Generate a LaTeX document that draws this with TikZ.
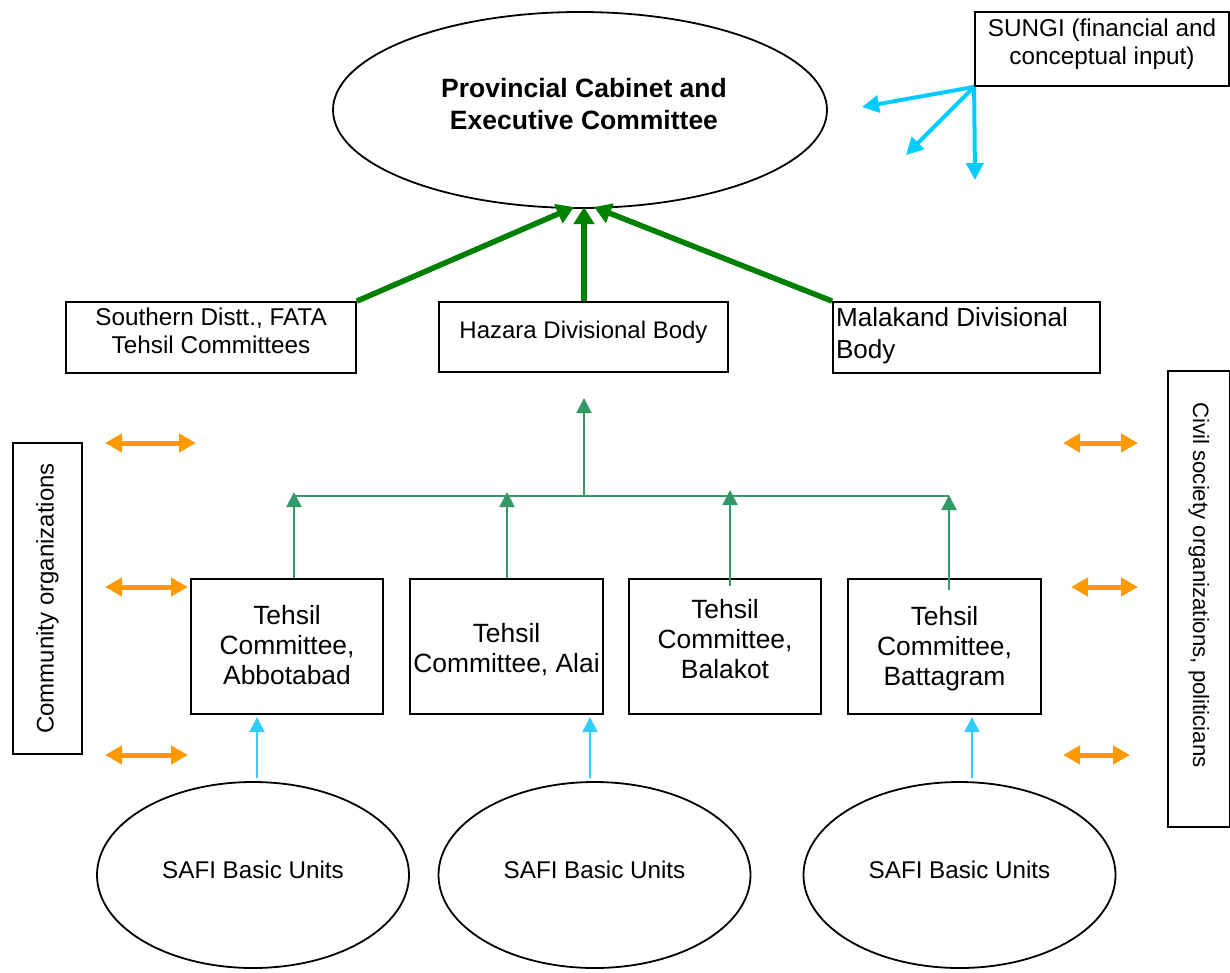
\documentclass[tikz,border=0pt]{standalone}
\usepackage{fontspec}
\setmainfont{Liberation Sans}
\usetikzlibrary{arrows.meta,shapes.geometric,calc}

\definecolor{feedgreen}{HTML}{008000}
\definecolor{linkgreen}{HTML}{339966}
\definecolor{inputblue}{HTML}{00CCFF}
\definecolor{unitblue}{HTML}{33CCFF}
\definecolor{liaison}{HTML}{FF9900}

% lines of a label, raised by #1 without changing the box size
\newcommand{\liftstack}[3]{\raisebox{#1}[\height][\depth]{\begin{tabular}{@{}#2@{}}#3\end{tabular}}}

\tikzset{
  plainbox/.style={draw, rectangle, line width=1.8pt, inner sep=0pt},
  oval/.style={draw, ellipse, line width=1.8pt, inner sep=0pt},
  feedarrow/.style={draw=feedgreen, line width=5.5pt, -{Triangle[length=17pt,width=20pt]}},
  linkline/.style={draw=linkgreen, line width=2pt},
  linkarrow/.style={draw=linkgreen, line width=2pt, -{Triangle[length=15pt,width=15pt]}},
  inputarrow/.style={draw=inputblue, line width=4pt, -{Triangle[length=17pt,width=17pt]}},
  unitarrow/.style={draw=unitblue, line width=2pt, -{Triangle[length=15pt,width=15pt]}},
  liaisonarrow/.style={draw=liaison, line width=5pt,
    {Triangle[length=17pt,width=18pt]}-{Triangle[length=17pt,width=18pt]}},
  tehsil/.style={plainbox, minimum width=192pt, minimum height=135pt,
    font=\fontsize{26.4}{30}\selectfont},
  safi/.style={oval, minimum width=312pt, minimum height=186pt,
    font=\fontsize{24.2}{28}\selectfont},
}

\begin{document}
\begin{tikzpicture}[x=1pt,y=-1pt]
\useasboundingbox (0,0) rectangle (1230,972);

% ---- top level ----
\node[oval, minimum width=494pt, minimum height=196pt,
      font=\fontsize{26.5}{32}\selectfont\bfseries] (cabinet) at (580,110)
  {\liftstack{3pt}{c}{\hspace*{8pt}Provincial Cabinet and\\\hspace*{8pt}Executive Committee}};

\node[plainbox, minimum width=254pt, minimum height=74pt,
      font=\fontsize{24.3}{28}\selectfont] (sungi) at (1102,49)
  {\liftstack{4pt}{c}{SUNGI (financial and\\conceptual input)}};

% ---- divisional level ----
\node[plainbox, minimum width=290pt, minimum height=71pt,
      font=\fontsize{24.3}{28}\selectfont] (southern) at (211,337.5)
  {\liftstack{3.5pt}{c}{Southern Distt., FATA\\Tehsil Committees}};
\node[plainbox, minimum width=289pt, minimum height=70pt,
      font=\fontsize{24}{28}\selectfont] (hazara) at (583.5,337)
  {\liftstack{4pt}{c}{Hazara Divisional Body}};
\node[plainbox, minimum width=267pt, minimum height=71pt,
      font=\fontsize{26.1}{32}\selectfont] (malakand) at (966.5,337.5)
  {\raisebox{1pt}[\height][\depth]{\makebox[261pt][l]{\begin{tabular}{@{}l@{}}Malakand Divisional\\Body\end{tabular}}}};

% ---- tehsil level ----
\node[tehsil] (abbot) at (287,646.5) {\liftstack{-1.5pt}{c}{Tehsil\\Committee,\\Abbotabad}};
\node[tehsil, minimum width=193pt] (alai) at (506.5,646.5) {\liftstack{-4.5pt}{c}{Tehsil\\Committee, Alai}};
\node[tehsil] (balakot) at (725,646.5) {\liftstack{4.5pt}{c}{Tehsil\\Committee,\\Balakot}};
\node[tehsil, minimum width=193pt] (battagram) at (944.5,646.5) {\liftstack{-3pt}{c}{Tehsil\\Committee,\\Battagram}};

% ---- side panels ----
\node[plainbox, rotate=90, minimum width=311pt, minimum height=69pt,
      font=\fontsize{24}{28}\selectfont] (community) at (47.5,598.5)
  {Community organizations};
\node[plainbox, rotate=-90, minimum width=456pt, minimum height=61.5pt,
      font=\fontsize{22.2}{26}\selectfont] (civil) at (1198.75,599)
  {Civil society organizations, politicians\hspace*{28pt}};

% ---- basic units ----
\node[safi] (safiA) at (253,875) {\liftstack{2pt}{c}{SAFI Basic Units}};
\node[safi] (safiB) at (594.5,875) {\liftstack{2pt}{c}{SAFI Basic Units}};
\node[safi] (safiC) at (959.5,875) {\liftstack{2pt}{c}{SAFI Basic Units}};

% ---- reporting lines to the cabinet ----
\coordinate (topL) at (574,207);
\coordinate (topM) at (584,207);
\coordinate (topR) at (594,207);
\draw[feedarrow] (southern.north east) -- (topL);
\draw[feedarrow] (topM |- hazara.north) -- (topM);
\draw[feedarrow] (malakand.north west) -- (topR);

% ---- SUNGI input ----
\coordinate (inA) at (862,107);
\coordinate (inB) at (906,155);
\coordinate (inC) at (975,180);
\draw[inputarrow] (sungi.south west) -- (inA);
\draw[inputarrow] (sungi.south west) -- (inB);
\draw[inputarrow] (sungi.south west) -- (inC);

% ---- tehsil committees feeding the Hazara body ----
\coordinate (hub) at (584,496);
\coordinate (busL) at (294,496);
\coordinate (busR) at (949,496);
\coordinate (upH) at (584,398);
\draw[linkarrow] (hub) -- (upH);
\draw[linkline] (busL) -- (busR);
\coordinate (tA) at (294,492);
\coordinate (tB) at (507,492);
\coordinate (tC) at (730,490);
\coordinate (tD) at (949,495);
\draw[linkarrow] (tA |- abbot.north) -- (tA);
\draw[linkarrow] (tB |- alai.north) -- (tB);
\draw[linkarrow] ($(tC |- balakot.north)+(0,8)$) -- (tC);
\draw[linkarrow] ($(tD |- battagram.north)+(0,12)$) -- (tD);

% ---- basic units feeding tehsil committees ----
\coordinate (uA) at (257,717);
\coordinate (uB) at (590,717);
\coordinate (uC) at (972,717);
\draw[unitarrow] ($(uA |- safiA.north)+(0,-3)$) -- (uA);
\draw[unitarrow] ($(uB |- safiB.north)+(0,-3)$) -- (uB);
\draw[unitarrow] ($(uC |- safiC.north)+(0,-3)$) -- (uC);

% ---- two-way links with community and civil society ----
\coordinate (lA1) at (105,443); \coordinate (lA2) at (196,443);
\coordinate (lB1) at (105,587); \coordinate (lB2) at (188,587);
\coordinate (lC1) at (105,755); \coordinate (lC2) at (188,755);
\coordinate (rA1) at (1063,443); \coordinate (rA2) at (1138,443);
\coordinate (rB1) at (1071,587); \coordinate (rB2) at (1138,587);
\coordinate (rC1) at (1063,755); \coordinate (rC2) at (1130,755);
\draw[liaisonarrow] (lA1) -- (lA2);
\draw[liaisonarrow] (lB1) -- (lB2);
\draw[liaisonarrow] (lC1) -- (lC2);
\draw[liaisonarrow] (rA1) -- (rA2);
\draw[liaisonarrow] (rB1) -- (rB2);
\draw[liaisonarrow] (rC1) -- (rC2);
\end{tikzpicture}
\end{document}
